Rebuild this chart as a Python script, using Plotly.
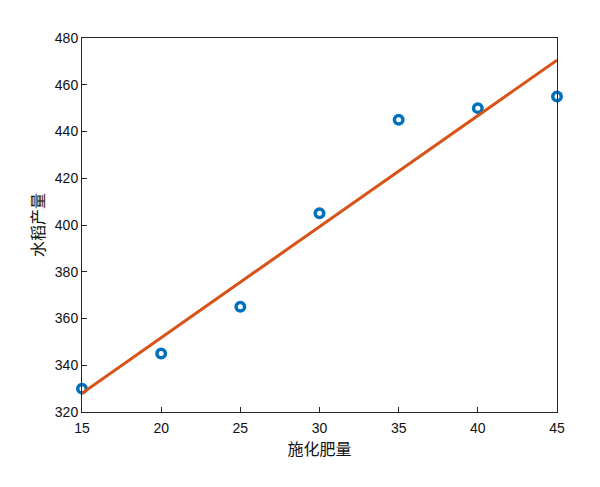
import numpy as np
import plotly.graph_objects as go

fertilizer = [15, 20, 25, 30, 35, 40, 45]
rice_yield = [330, 345, 365, 405, 445, 450, 455]
x_ticks = [15, 20, 25, 30, 35, 40, 45]
y_ticks = [320, 340, 360, 380, 400, 420, 440, 460, 480]

coef = np.polyfit(fertilizer, rice_yield, 1)
fit_x = np.array([min(fertilizer), max(fertilizer)])
fit_y = np.polyval(coef, fit_x)

fig = go.Figure()
fig.add_trace(go.Scatter(
    x=fertilizer, y=rice_yield, mode="markers",
    marker=dict(symbol="circle-open", size=8.5, color="#0072BD",
                line=dict(width=3.5, color="#0072BD")),
    showlegend=False, cliponaxis=False))
fig.add_trace(go.Scatter(
    x=fit_x, y=fit_y, mode="lines",
    line=dict(color="#D95319", width=3),
    showlegend=False))

axis_common = dict(
    showgrid=False, zeroline=False, showline=True, mirror=True,
    linecolor="#262626", linewidth=1, ticks="inside", ticklen=5,
    tickcolor="#262626", tickfont=dict(family="Liberation Sans, Arial", size=14, color="#111111"),
)
fig.update_xaxes(range=[15, 45], tickvals=x_ticks, ticklabelstandoff=3,
                 title=dict(text="施化肥量", font=dict(family="Noto Sans CJK SC", size=16, color="#111111"), standoff=9),
                 **axis_common)
fig.update_yaxes(range=[320, 480], tickvals=y_ticks,
                 title=dict(text="水稻产量", font=dict(family="Noto Sans CJK SC", size=16, color="#111111"), standoff=6),
                 **axis_common)
fig.update_layout(
    width=592, height=479,
    margin=dict(l=74, r=43, t=30, b=75),
    plot_bgcolor="white", paper_bgcolor="white",
)
fig.write_html("out.html")
